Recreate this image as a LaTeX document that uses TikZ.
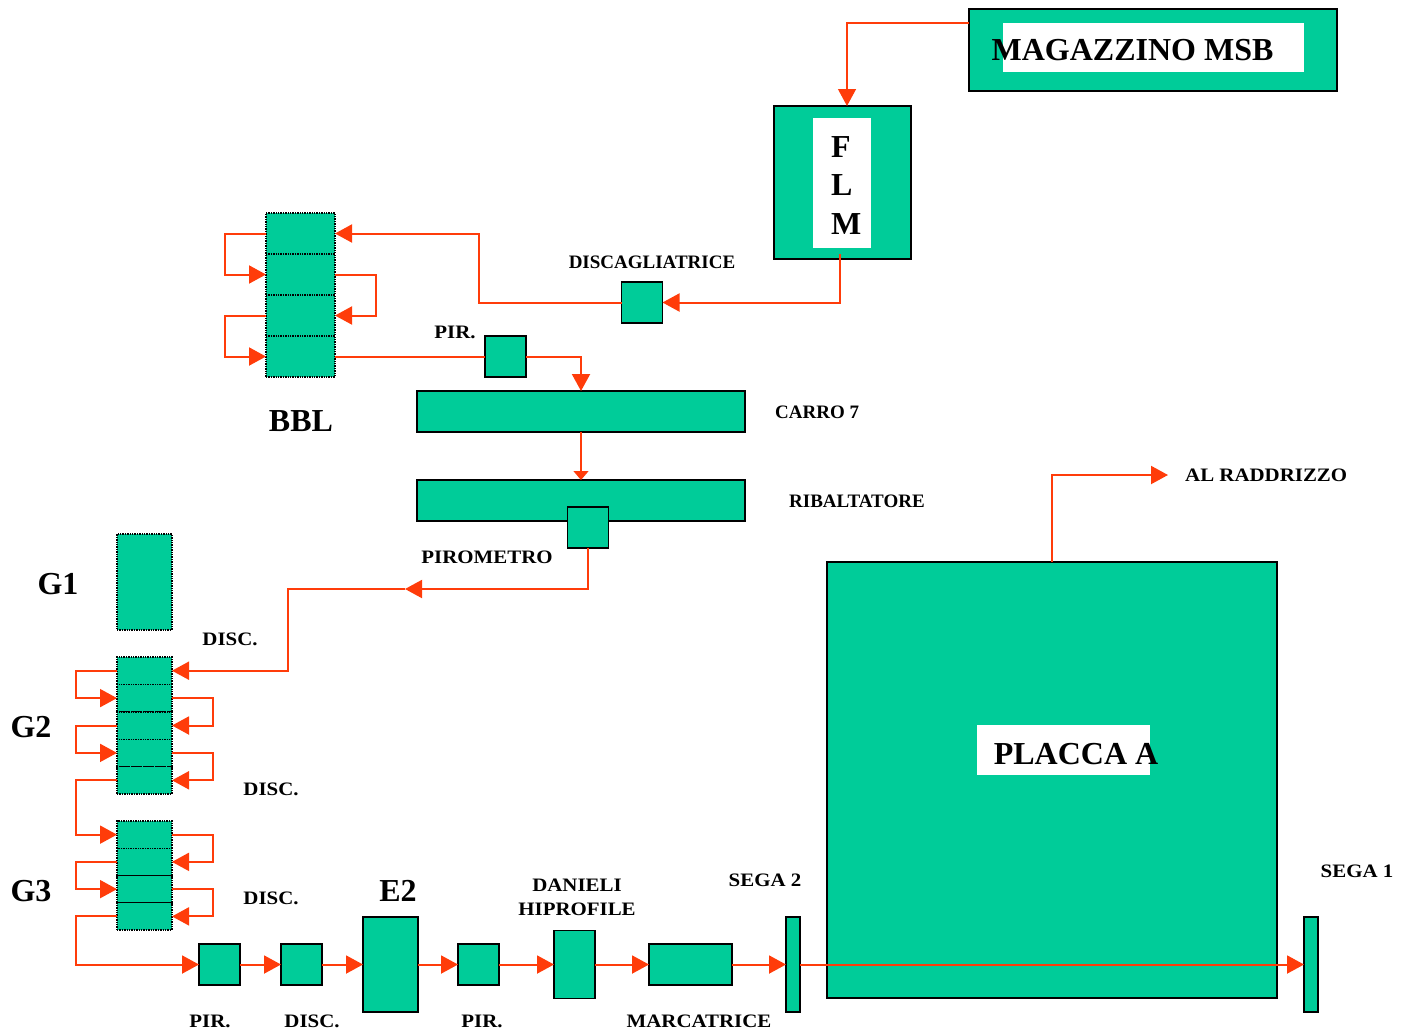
\documentclass[tikz,border=0pt]{standalone}
\usepackage{fontspec}
\setmainfont{Liberation Serif}
\newfontfamily\largafont[FakeStretch=1.1]{Liberation Serif}
\usetikzlibrary{arrows.meta, positioning}
\definecolor{verde}{RGB}{0,204,153}
\definecolor{freccia}{RGB}{255,60,10}

\tikzset{
  blocco/.style={draw=black, line width=1.5pt, fill=verde, inner sep=0pt, outer sep=0pt},
  cella/.style={draw=black, densely dotted, line width=1.4pt, fill=verde, inner sep=0pt, outer sep=0pt},
  linea/.style={draw=freccia, line width=2pt},
  flusso/.style={linea, -{Triangle[length=17pt, width=18pt]}},
  etic/.style={font=\largafont\bfseries\fontsize{19}{24}\selectfont, inner sep=0pt},
  stretta/.style={etic, font=\bfseries\fontsize{19}{24}\selectfont},
  titolo/.style={font=\bfseries\fontsize{32}{38.5}\selectfont, inner sep=0pt}
}

\begin{document}
\begin{tikzpicture}[x=1pt, y=-1pt]
    \useasboundingbox (0,0) rectangle (1412,1034);

    % magazzino e FLM
    \node[blocco, minimum width=368pt, minimum height=82pt] (mag) at (1153,50) {};
    \fill[white] (1003,23) rectangle (1304,72);
    \node[titolo] (magtxt) at (1132.5,50) {MAGAZZINO MSB};
    \node[blocco, minimum width=137pt, minimum height=153pt] (flm) at (842.5,182.5) {};
    \fill[white] (813,118) rectangle (871,248);
    \node[titolo, align=left, anchor=north west] (flmtxt) at (831,136) {F\\L\\M};

    % discagliatrice e BBL
    \node[blocco, minimum size=41pt] (discag) at (642,302.5) {};
    \node[stretta] (discagtxt) at (652,262) {DISCAGLIATRICE};
    \foreach \i in {1,...,4}
        \node[cella, minimum width=69pt, minimum height=41pt] (bbl\i) at (300.5,{192.5+41*\i}) {};
    \node[titolo] (bbltxt) at (301,421) {BBL};
    \node[blocco, minimum size=41pt] (pir) at (505.5,356.5) {};
    \node[etic] (pirtxt) at (455,332) {PIR.};

    % carro e ribaltatore
    \node[blocco, minimum width=328pt, minimum height=41pt] (carro) at (581,411.5) {};
    \node[stretta, anchor=west] (carrotxt) at (775,412) {CARRO 7};
    \node[blocco, minimum width=328pt, minimum height=41pt] (ribalt) at (581,500.5) {};
    \node[stretta, anchor=west] (ribalttxt) at (789,501) {RIBALTATORE};
    \node[blocco, minimum size=41pt] (piro) at (588,527.5) {};
    \node[etic] (pirotxt) at (487,557) {PIROMETRO};

    % gabbie G1, G2, G3
    \node[cella, minimum width=55pt, minimum height=96pt] (g1) at (144.5,582) {};
    \node[titolo] (g1txt) at (58,584) {G1};
    \foreach \i in {1,...,5}
        \node[cella, minimum width=55pt, minimum height=27.4pt] (g2c\i) at (144.5,{643.3+27.4*\i}) {};
    \node[titolo] (g2txt) at (31,727) {G2};
    \foreach \i in {1,...,4}
        \node[cella, minimum width=55pt, minimum height=27.25pt] (g3c\i) at (144.5,{807.375+27.25*\i}) {};
    \node[titolo] (g3txt) at (31,891) {G3};
    \node[etic] (disc1txt) at (230,639) {DISC.};
    \node[etic] (disc2txt) at (271,789) {DISC.};
    \node[etic] (disc3txt) at (271,898) {DISC.};

    % linea finale
    \node[blocco, minimum size=41pt] (pirA) at (219.5,964.5) {};
    \node[etic] (pirAtxt) at (210,1021) {PIR.};
    \node[blocco, minimum size=41pt] (discA) at (301.5,964.5) {};
    \node[etic] (discAtxt) at (312,1021) {DISC.};
    \node[blocco, minimum width=55pt, minimum height=95pt] (e2) at (390.5,964.5) {};
    \node[titolo] (e2txt) at (398,891) {E2};
    \node[blocco, minimum size=41pt] (pirB) at (478.5,964.5) {};
    \node[etic] (pirBtxt) at (482,1021) {PIR.};
    \node[blocco, minimum width=41pt, minimum height=68pt] (danieli) at (574.5,964.5) {};
    \node[etic, align=center] (danielitxt) at (577,897) {DANIELI\\HIPROFILE};
    \node[blocco, minimum width=83pt, minimum height=41pt] (marca) at (690.5,964.5) {};
    \node[etic] (marcatxt) at (699,1021) {MARCATRICE};
    \node[blocco, minimum width=14pt, minimum height=95pt] (sega2) at (793,964.5) {};
    \node[etic] (sega2txt) at (765,880) {SEGA 2};
    \node[blocco, minimum width=450pt, minimum height=436pt] (placca) at (1052,780) {};
    \fill[white] (977,725) rectangle (1150,775);
    \node[titolo] (placcatxt) at (1076,754) {PLACCA A};
    \node[blocco, minimum width=14pt, minimum height=95pt] (sega1) at (1311,964.5) {};
    \node[etic] (sega1txt) at (1357,871) {SEGA 1};
    \node[etic, anchor=west] (raddrtxt) at (1185,475) {AL RADDRIZZO};

    % flussi
    \draw[flusso, line width=1.3pt] ([yshift=-14pt]mag.north west) -| ([xshift=4.5pt]flm.north);
    \draw[flusso] ([xshift=-2.5pt, yshift=5pt]flm.south) |- (discag.east);
    \draw[flusso] (discag.west) -- ++(-143,0) |- (bbl1.east);
    \draw[flusso] (bbl1.west) -- ++(-41,0) |- (bbl2.west);
    \draw[flusso] (bbl2.east) -- ++(41,0) |- (bbl3.east);
    \draw[flusso] (bbl3.west) -- ++(-41,0) |- (bbl4.west);
    \draw[linea] (bbl4.east) -- (pir.west);
    \draw[flusso] (pir.east) -| (carro.north);
    \draw[flusso, line width=1.3pt, -{Triangle[length=9pt, width=15pt]}] (carro.south) -- (ribalt.north);
    \coordinate (meta) at (405,589);
    \draw[flusso] (piro.south) |- (meta);
    \draw[flusso] (meta) -- ++(-117,0) |- (g2c1.east);
    \draw[flusso] (g2c1.west) -- ++(-41,0) |- (g2c2.west);
    \draw[flusso] (g2c2.east) -- ++(41,0) |- (g2c3.east);
    \draw[flusso] (g2c3.west) -- ++(-41,0) |- (g2c4.west);
    \draw[flusso] (g2c4.east) -- ++(41,0) |- (g2c5.east);
    \draw[flusso] (g2c5.west) -- ++(-41,0) |- (g3c1.west);
    \draw[flusso] (g3c1.east) -- ++(41,0) |- (g3c2.east);
    \draw[flusso] (g3c2.west) -- ++(-41,0) |- (g3c3.west);
    \draw[flusso] (g3c3.east) -- ++(41,0) |- (g3c4.east);
    \draw[flusso] (g3c4.west) -- ++(-41,0) |- (pirA.west);
    \foreach \a/\b in {pirA/discA, discA/e2, e2/pirB, pirB/danieli, danieli/marca, marca/sega2, sega2/sega1}
        \draw[flusso] (\a.east) -- (\b.west);
    \draw[flusso] (placca.north) |- ([xshift=-17pt]raddrtxt.west);
\end{tikzpicture}
\end{document}
